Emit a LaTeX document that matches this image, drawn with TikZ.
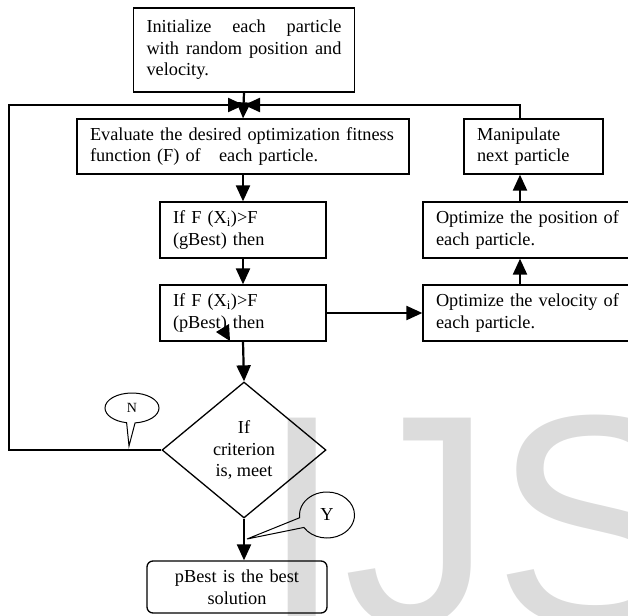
\documentclass[tikz,border=0pt]{standalone}
\usepackage{fontspec}
\setmainfont{Liberation Serif}
\newfontfamily\wmfont{Liberation Sans}
\usepackage{tikz}
\usetikzlibrary{arrows.meta,shapes.geometric,shapes.callouts}
\definecolor{wmgray}{RGB}{220,220,220}

\begin{document}
\begin{tikzpicture}[x=1pt,y=-1pt,
    font=\fontsize{18.3}{21.5}\selectfont,
    box/.style={draw,line width=1.3pt,rectangle,inner xsep=13pt,inner ysep=0pt,align=left},
    conn/.style={line width=2.2pt,-{Triangle[length=16pt,width=14pt]}},
    bubble/.style={ellipse callout,draw,line width=1pt,inner sep=0pt}]
  \useasboundingbox (0,0) rectangle (628,615);
  % watermark
  \node[anchor=base west,text=wmgray,font=\wmfont\fontsize{300}{300}\selectfont,inner sep=0pt](wm)at(260,624){IJS};
  % boxes
  \node[box,text width=195pt,minimum height=84pt](init)at(244,50){\makebox[195pt]{Initialize\hfill each\hfill particle}\\ \makebox[195pt]{with\hfill random\hfill position\hfill and}\\ velocity.};
  \node[box,text width=306pt,minimum height=55pt](eval)at(243,146.5){Evaluate the desired optimization fitness\\ function (F) of~~~each particle.};
  \node[box,text width=113pt,minimum height=55pt](manip)at(533.5,146.5){Manipulate\\ next particle};
  \node[box,text width=140pt,minimum height=56pt](gbest)at(243,230){If F (X\textsubscript{i})>F\\ (gBest) then};
  \node[box,text width=189pt,minimum height=56pt](pos)at(530.5,230){Optimize the position of\\ each particle.};
  \node[box,text width=140pt,minimum height=56pt](pbest)at(243,313){If F (X\textsubscript{i})>F\\ (pBest) then};
  \node[box,text width=189pt,minimum height=56pt](vel)at(530.5,313){Optimize the velocity of\\ each particle.};
  \node[diamond,draw,line width=1.3pt,aspect=1.2,minimum width=164pt,minimum height=136pt,inner sep=0pt,align=center](crit)at(244,450){If\\ criterion\\ is, meet};
  \node[box,rounded corners=6pt,text width=154pt,minimum height=52pt,align=center](result)at(237,587){pBest is the best\\ solution};
  % connectors
  \coordinate (junc) at (244,105);
  \coordinate (corner) at (9,105);
  \coordinate (rcol) at (520,0);
  \draw[conn](init.south)--(eval.north);
  \draw[conn](eval.south)--(gbest.north);
  \draw[conn](gbest.south)--(pbest.north);
  \draw[conn](pbest.south)--(crit.north);
  \draw[conn](crit.south)--(crit.south |- result.north);
  \draw[conn](pbest.east)--(vel.west);
  \draw[conn](vel.north -| rcol)--(pos.south -| rcol);
  \draw[conn](pos.north -| rcol)--(manip.south -| rcol);
  \draw[conn](manip.north -| rcol)|-(junc);
  \draw[conn](crit.west)-|(corner)--(junc);
  \fill(216,332)--(229,324)--(230,341)--cycle;
  % callouts
  \node[bubble,font=\fontsize{14}{16}\selectfont,minimum width=54pt,minimum height=30pt,callout pointer arc=18,callout absolute pointer={(129,446)}](ncall)at(132,408){N};
  \node[bubble,minimum width=55pt,minimum height=46pt,callout pointer arc=26,callout absolute pointer={(247,539)}](ycall)at(327,515){Y};
\end{tikzpicture}
\end{document}
